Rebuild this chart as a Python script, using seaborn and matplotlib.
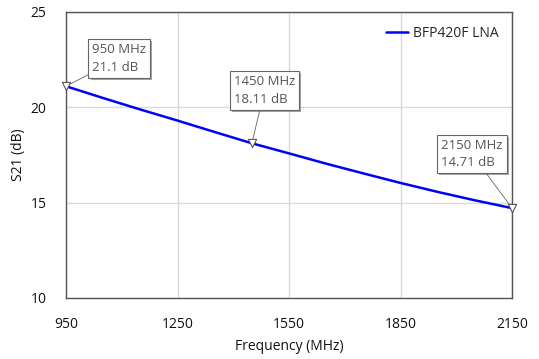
import matplotlib
matplotlib.use("Agg")
import matplotlib.pyplot as plt
import matplotlib.patheffects as pe
from matplotlib.ticker import MultipleLocator
import seaborn as sns
import pandas as pd

# --- Data ---
freq_mhz = [950, 1050, 1150, 1250, 1350, 1450, 1550, 1650, 1750, 1850, 1950, 2050, 2150]
s21_db = [21.1, 20.48, 19.88, 19.3, 18.7, 18.11, 17.58, 17.04, 16.53, 16.03, 15.56, 15.12, 14.71]

marker_freq = [950, 1450, 2150]
marker_db = [21.1, 18.11, 14.71]
marker_text = ["950 MHz\n21.1 dB", "1450 MHz\n18.11 dB", "2150 MHz\n14.71 dB"]
# box offsets (points) from each marker
marker_offset = [(19, 9), (-13, 27), (-51, 28)]

x_ticks = [950, 1250, 1550, 1850, 2150]
y_ticks = [10, 15, 20, 25]

df = pd.DataFrame({"Frequency (MHz)": freq_mhz, "S21 (dB)": s21_db})

sns.set_style("white")
plt.rcParams["font.family"] = ["Open Sans", "DejaVu Sans"]

fig, ax = plt.subplots(figsize=(5.39, 3.59), dpi=100)
fig.subplots_adjust(left=0.1225, right=0.95, top=0.967, bottom=0.17)

sns.lineplot(data=df, x="Frequency (MHz)", y="S21 (dB)", ax=ax,
             color="#0000ff", linewidth=1.8, label="BFP420F LNA")

ax.set_xlim(950, 2150)
ax.set_ylim(10, 25)
ax.set_xticks(x_ticks)
ax.set_yticks(y_ticks)
ax.xaxis.set_minor_locator(MultipleLocator(100))
ax.yaxis.set_minor_locator(MultipleLocator(1))
ax.grid(True, which="major", color="#d9d9d9", linewidth=1)
ax.tick_params(which="major", length=0, labelsize=10, colors="#111111")
ax.tick_params(axis="x", which="major", pad=14)
ax.tick_params(axis="y", which="major", pad=14)
ax.tick_params(which="minor", direction="in", length=6, width=1, color="#555555")
ax.tick_params(which="minor", top=False, right=False)
for side in ["top", "right", "bottom", "left"]:
    ax.spines[side].set_color("#555555")
    ax.spines[side].set_linewidth(1)
ax.set_xlabel("Frequency (MHz)", fontsize=10, color="#111111", labelpad=5)
ax.set_ylabel("S21 (dB)", fontsize=10, color="#111111", labelpad=3)

# markers and callouts
ax.scatter(marker_freq, marker_db, marker="v", s=35, facecolors="white",
           edgecolors="#555555", linewidths=0.8, zorder=5, clip_on=False)
for fx, fy, txt, off in zip(marker_freq, marker_db, marker_text, marker_offset):
    ann = ax.annotate(txt, xy=(fx, fy), xytext=off, textcoords="offset points",
                      fontsize=9.5, color="#555555", linespacing=1.45,
                      ha="left", va="bottom",
                      bbox=dict(boxstyle="square,pad=0.3", fc="white",
                                ec="#666666", lw=0.8),
                      arrowprops=dict(arrowstyle="-", color="#666666", lw=0.6,
                                      shrinkA=0, shrinkB=3),
                      zorder=6, annotation_clip=False)
    ann.get_bbox_patch().set_path_effects(
        [pe.SimplePatchShadow(offset=(1.5, -1.5), alpha=0.5), pe.Normal()])

leg = ax.legend(loc="upper right", frameon=False, fontsize=10,
                handlelength=1.6, handletextpad=0.3, borderaxespad=0.6)

fig.savefig("out.png", dpi=100)
